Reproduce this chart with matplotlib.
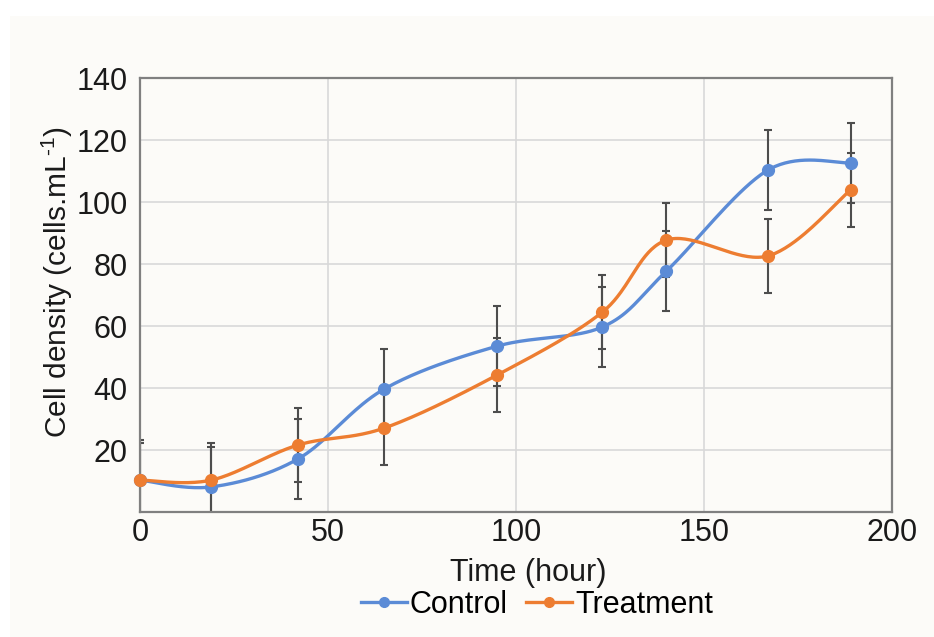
import numpy as np
import matplotlib
matplotlib.use("Agg")
import matplotlib.pyplot as plt
from matplotlib.patches import Rectangle

plt.rcParams["font.family"] = ["Liberation Sans", "DejaVu Sans"]
plt.rcParams["mathtext.fontset"] = "custom"
plt.rcParams["mathtext.rm"] = "Liberation Sans"
plt.rcParams["mathtext.it"] = "Liberation Sans"

# ============================================================
#  Data
# ============================================================
time_h        = [0, 19, 42, 65, 95, 123, 140, 167, 189]
control       = [10.3, 8.1, 17.1, 39.7, 53.5, 59.7, 77.7, 110.3, 112.6]
control_err   = [13, 13, 13, 13, 13, 13, 13, 13, 13]
treatment     = [10.3, 10.3, 21.6, 27.1, 44.2, 64.5, 87.7, 82.6, 103.9]
treatment_err = [12, 12, 12, 12, 12, 12, 12, 12, 12]

series_names  = ["Control", "Treatment"]
series_colors = ["#5B8BD6", "#ED7D31"]
x_ticks = [0, 50, 100, 150, 200]
y_ticks = [20, 40, 60, 80, 100, 120, 140]


# ============================================================
#  Excel-like smoothed line (Catmull-Rom -> cubic Bezier)
# ============================================================
def _smooth(xs, ys, n=40):
    pts = np.column_stack([xs, ys]).astype(float)
    padded = np.vstack([pts[:1], pts, pts[-1:]])
    out = []
    for i in range(len(pts) - 1):
        p0, p1, p2, p3 = padded[i], padded[i + 1], padded[i + 2], padded[i + 3]
        c1 = p1 + (p2 - p0) / 6.0
        c2 = p2 - (p3 - p1) / 6.0
        t = np.linspace(0, 1, n)[:, None]
        seg = ((1 - t) ** 3) * p1 + 3 * ((1 - t) ** 2) * t * c1 \
            + 3 * (1 - t) * t ** 2 * c2 + t ** 3 * p2
        out.append(seg if i == 0 else seg[1:])
    curve = np.vstack(out)
    return curve[:, 0], curve[:, 1]


fig = plt.figure(figsize=(9.34, 6.37), dpi=100)
fig.patch.set_facecolor("white")
fig.add_artist(Rectangle((10 / 934, 0), 1, 1 - 16 / 637, transform=fig.transFigure,
                         facecolor="#fcfbf8", edgecolor="none", zorder=-10))

ax = fig.add_axes([140 / 934, 1 - 512 / 637, 752 / 934, 434 / 637])
ax.set_facecolor("none")

ys_all = [control, treatment]
errs_all = [control_err, treatment_err]

# error bars (behind the lines)
for ys, errs in zip(ys_all, errs_all):
    ax.errorbar(time_h, ys, yerr=errs, fmt="none", ecolor="#4d4d4d",
                elinewidth=1.5, capsize=3.2, capthick=1.5, zorder=2)

handles = []
for ys, name, col in zip(ys_all, series_names, series_colors):
    sx, sy = _smooth(time_h, ys)
    ax.plot(sx, sy, color=col, lw=2.4, zorder=3, solid_capstyle="round")
    ax.plot(time_h, ys, "o", color=col, ms=8.5, zorder=4, clip_on=False)
    h, = ax.plot([], [], "-o", color=col, lw=2.4, ms=7, label=name)
    handles.append(h)

ax.set_xlim(0, 200)
ax.set_ylim(0, 140)
ax.set_xticks(x_ticks)
ax.set_yticks(y_ticks)
ax.tick_params(axis="both", length=0, labelsize=22, colors="#1a1a1a")
ax.tick_params(axis="y", pad=9)
ax.tick_params(axis="x", pad=4)
ax.grid(True, color="#d9d9d9", lw=1.2, zorder=0)
ax.set_axisbelow(True)
for s in ax.spines.values():
    s.set_color("#808080")
    s.set_linewidth(1.6)

ax.set_xlabel("Time (hour)", fontsize=22, color="#1a1a1a", labelpad=2)
ax.xaxis.set_label_coords(0.516, -0.105)
ax.set_ylabel(r"Cell density (cells.mL$^{\text{-1}}$)", fontsize=21.5, color="#1a1a1a", labelpad=1)
ax.yaxis.label.set_y(0.53)

fig.legend(handles=handles, loc="center", bbox_to_anchor=(537 / 934, 1 - 605 / 637),
           ncol=2, frameon=False, fontsize=22, handlelength=1.5, handletextpad=0.1,
           columnspacing=0.6, borderpad=0.1)

fig.savefig("out.png", dpi=100)
